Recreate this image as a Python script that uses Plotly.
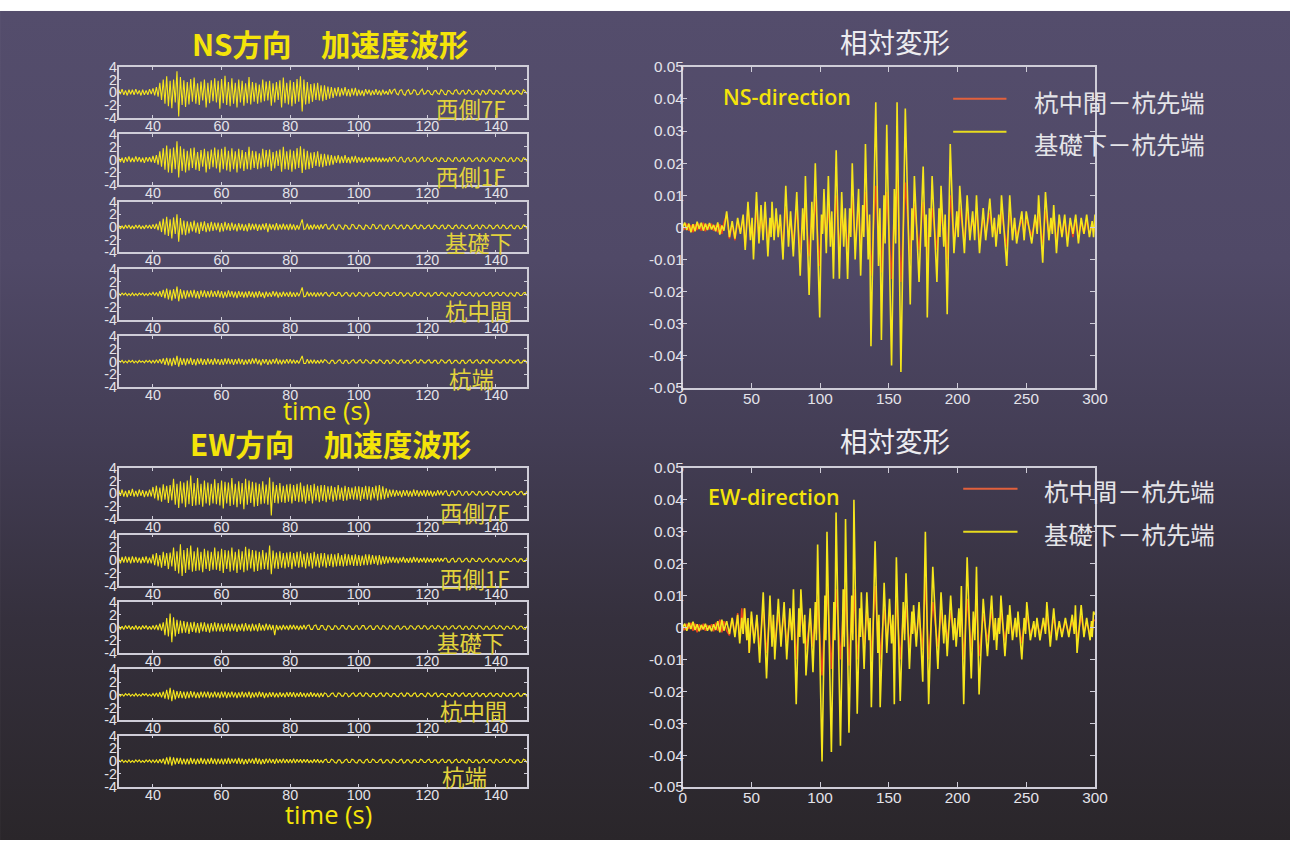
import base64
import plotly.graph_objects as go

# Layout positions are given on a 1290 x 841 grid (REF_W x REF_H); the figure
# itself is drawn slightly larger and every font is scaled to match.
REF_W, REF_H = 1290, 841
W, H = 1314, 856
SCALE = W / REF_W

# ---------------------------------------------------------------------------
# Acceleration records, sampled every 0.5 s from 30 s to 149.5 s
# (one row = 10 s)
# ---------------------------------------------------------------------------
acc_time = [30 + 0.5 * i for i in range(240)]

ns_west7f = [
    .4, -.3, .5, -.4, .3, -.5, .4, -.3, .4, -.4, .5, -.3, .3, -.5, .4, -.4, .3, -.4, .5, -.3,
    .6, -.5, .8, -.7, 1.5, -1.2, 2.0, -1.8, 2.5, -2.2, 1.8, -2.5, 2.0, -1.6, 3.3, -3.8, 2.4, -2.0, 1.9, -2.3,
    1.6, -1.9, 2.1, -1.5, 2.3, -1.8, 1.4, -2.0, 1.7, -1.3, 2.0, -2.4, 1.5, -1.7, 1.9, -1.4, 2.2, -1.6, 1.8, -2.6,
    2.1, -1.7, 2.6, -2.0, 1.6, -2.2, 2.2, -1.8, 1.5, -2.4, 2.0, -1.6, 1.8, -2.1, 1.4, -1.7, 2.4, -1.9, 1.6, -1.5,
    1.5, -1.8, 1.2, -1.6, 2.0, -1.4, 1.7, -1.3, 1.8, -2.1, 1.4, -1.6, 1.6, -1.2, 1.9, -2.4, 2.3, -1.7, 1.5, -1.9,
    1.9, -2.2, 1.6, -1.8, 2.1, -1.5, 2.5, -3.0, 2.0, -1.9, 1.6, -1.8, 1.3, -1.5, 1.4, -1.2, 1.5, -1.3, 1.1, -1.4,
    1.1, -1.2, .9, -1.0, .8, -.9, .7, -.6, .8, -.7, .6, -.5, .8, -.6, .5, -.7, .6, -.5, .7, -.6,
    .4, -.5, .3, -.6, .5, -.3, .4, -.5, .3, -.4, .5, -.4, .3, -.5, .4, -.3, .2, -.4, .5, -.3,
    .3, .5, -.2, -.4, .3, .4, -.3, -.5, .2, .4, -.3, -.2, .4, .3, -.4, -.3, .2, .5, -.3, -.2,
    .3, .2, -.3, -.4, .2, .3, -.2, -.3, .4, .2, -.3, -.4, .3, .2, -.2, -.3, .3, .4, -.2, -.3,
    .2, .3, -.3, -.2, .4, .2, -.3, -.3, .2, .3, -.2, -.4, .3, .2, -.3, -.2, .4, .3, -.2, -.3,
    .3, .2, -.2, -.3, .3, .4, -.2, -.3, .2, .3, -.3, -.2, .3, .2, -.2, -.3, .4, .2, -.2, .3]

ns_west1f = [
    .4, -.4, .3, -.5, .4, -.3, .5, -.4, .3, -.4, .5, -.3, .4, -.4, .3, -.5, .4, -.3, .4, -.4,
    .6, -.5, .7, -.8, 1.3, -1.1, 1.8, -1.6, 2.2, -2.0, 1.7, -2.1, 1.9, -1.5, 2.9, -2.8, 2.1, -1.8, 1.7, -2.0,
    1.4, -1.7, 1.8, -1.3, 1.9, -1.6, 1.2, -1.8, 1.5, -1.1, 1.7, -2.0, 1.3, -1.5, 1.6, -1.2, 1.9, -1.4, 1.6, -2.0,
    1.7, -1.5, 2.0, -1.7, 1.4, -1.9, 1.8, -1.5, 1.3, -2.0, 1.7, -1.4, 1.5, -1.8, 1.2, -1.5, 2.0, -1.6, 1.4, -1.3,
    1.3, -1.5, 1.0, -1.4, 1.7, -1.2, 1.5, -1.1, 1.6, -1.8, 1.2, -1.4, 1.4, -1.0, 1.6, -1.9, 2.0, -1.5, 1.3, -1.6,
    1.6, -1.9, 1.4, -1.5, 1.8, -1.3, 2.1, -2.1, 1.7, -1.6, 1.4, -1.5, 1.1, -1.3, 1.2, -1.0, 1.3, -1.1, .9, -1.2,
    .9, -1.0, .8, -.9, .7, -.8, .6, -.5, .7, -.6, .5, -.5, .7, -.5, .4, -.6, .5, -.4, .6, -.5,
    .4, -.4, .3, -.5, .4, -.3, .4, -.4, .3, -.3, .4, -.4, .3, -.4, .3, -.3, .2, -.4, .4, -.3,
    .3, .4, -.2, -.3, .3, .4, -.3, -.4, .2, .3, -.3, -.2, .3, .3, -.4, -.3, .2, .4, -.3, -.2,
    .3, .2, -.3, -.3, .2, .3, -.2, -.3, .3, .2, -.3, -.3, .3, .2, -.2, -.3, .3, .3, -.2, -.3,
    .2, .3, -.3, -.2, .3, .2, -.3, -.2, .2, .3, -.2, -.3, .3, .2, -.3, -.2, .3, .3, -.2, -.3,
    .3, .2, -.2, -.3, .3, .3, -.2, -.3, .2, .3, -.3, -.2, .3, .2, -.2, -.3, .3, .2, -.2, .3]

ns_foundation = [
    .3, -.3, .2, -.3, .3, -.2, .3, -.3, .2, -.3, .3, -.2, .3, -.3, .2, -.3, .3, -.2, .3, -.3,
    .4, -.3, .5, -.5, .9, -.8, 1.3, -1.2, 1.6, -1.4, 1.2, -1.8, 1.5, -1.1, 2.0, -2.3, 1.4, -1.2, 1.0, -1.3,
    .9, -1.0, .8, -.7, 1.0, -.9, .7, -1.1, .8, -.6, .9, -.8, .6, -.7, .8, -.6, .7, -.5, .7, -.8,
    .6, -.7, .8, -.5, .6, -.6, .7, -.5, .5, -.7, .6, -.5, .5, -.6, .4, -.7, .6, -.5, .5, -.4,
    .5, -.6, .4, -.5, .5, -.4, .6, -.8, .5, -.4, .4, -.5, .6, -.5, .4, -.4, .5, -.4, .4, -.5,
    .5, -.4, .4, -.5, .3, -.4, .4, 1.2, -.4, -.3, .5, -.4, .3, -.4, .4, -.3, .3, -.4, .4, -.3,
    .3, .4, -.3, -.3, .2, .4, -.3, -.4, .3, .3, -.2, -.4, .3, .2, -.3, -.3, .4, .3, -.2, -.3,
    .3, .2, -.3, -.4, .3, .2, -.2, -.3, .4, .3, -.3, -.2, .3, .3, -.3, -.4, .2, .3, -.3, -.2,
    .3, .3, -.2, -.3, .2, .3, -.3, -.2, .3, .2, -.3, -.3, .2, .3, -.2, -.3, .3, .2, -.3, -.2,
    .2, .3, -.3, -.2, .3, .2, -.2, -.3, .2, .3, -.3, -.2, .3, .2, -.2, -.3, .2, .3, -.2, -.2,
    .3, .2, -.2, -.3, .2, .3, -.3, -.2, .2, .3, -.2, -.3, .3, .2, -.2, -.2, .3, .2, -.3, -.2,
    .2, .3, -.2, -.2, .3, .2, -.3, -.2, .2, .3, -.2, -.3, .2, .2, -.3, -.2, .3, .2, -.2, .3]

ns_pile_mid = [
    .2, -.2, .2, -.1, .2, -.2, .1, -.2, .2, -.2, .1, -.2, .2, -.1, .2, -.2, .1, -.2, .2, -.1,
    .3, -.2, .3, -.3, .5, -.4, .7, -.6, .9, -.8, .7, -1.0, .8, -.7, 1.2, -1.1, .8, -.7, .6, -.7,
    .6, -.5, .6, -.5, .7, -.6, .5, -.7, .6, -.4, .6, -.5, .5, -.5, .6, -.4, .5, -.4, .6, -.5,
    .5, -.6, .4, -.5, .6, -.4, .5, -.5, .4, -.6, .5, -.4, .4, -.5, .4, -.5, .5, -.4, .4, -.5,
    .4, -.5, .5, -.4, .3, -.6, .4, -.4, .3, -.4, .5, -.3, .4, -.5, .3, -.4, .4, -.3, .3, -.4,
    .4, -.4, .3, -.4, .3, -.3, .3, 1.1, -.4, -.3, .4, -.3, .3, -.3, .3, -.4, .3, -.3, .3, -.3,
    .2, .3, -.2, -.3, .2, .3, -.2, -.2, .3, .2, -.3, -.2, .2, .3, -.2, -.3, .2, .2, -.3, -.2,
    .3, .2, -.2, -.3, .2, .2, -.3, -.2, .2, .3, -.2, -.2, .3, .2, -.2, -.3, .2, .3, -.2, -.2,
    .2, .3, -.2, -.2, .3, .2, -.3, -.2, .2, .2, -.2, -.3, .2, .3, -.2, -.2, .3, .2, -.2, -.3,
    .2, .2, -.3, -.2, .2, .3, -.2, -.2, .3, .2, -.2, -.3, .2, .2, -.2, -.3, .3, .2, -.2, -.2,
    .3, .2, -.2, -.2, .2, .3, -.2, -.3, .2, .2, -.3, -.2, .2, .3, -.2, -.2, .2, .3, -.3, -.2,
    .2, .3, -.2, -.2, .3, .2, -.2, -.3, .2, .2, -.2, -.3, .3, .2, -.2, -.2, .2, .3, -.2, .3]

ns_pile_tip = [
    .2, -.1, .2, -.2, .1, -.2, .2, -.1, .2, -.2, .1, -.2, .2, -.1, .1, -.2, .2, -.1, .2, -.2,
    .2, -.2, .3, -.2, .4, -.3, .5, -.5, .6, -.6, .5, -.7, .6, -.5, .9, -.8, .6, -.5, .5, -.6,
    .5, -.4, .6, -.5, .4, -.6, .5, -.4, .5, -.5, .4, -.5, .5, -.4, .4, -.5, .5, -.4, .4, -.5,
    .4, -.5, .5, -.4, .5, -.4, .4, -.5, .4, -.4, .5, -.4, .4, -.5, .3, -.4, .4, -.4, .5, -.3,
    .5, -.4, .3, -.6, .4, -.3, .4, -.5, .3, -.4, .4, -.3, .5, -.4, .3, -.4, .3, -.3, .4, -.3,
    .4, -.3, .3, -.3, .2, -.3, .3, .9, -.3, -.3, .4, -.3, .3, -.3, .3, -.3, .2, -.3, .3, -.2,
    .3, .2, -.2, -.3, .2, .2, -.3, -.2, .2, .3, -.2, -.3, .2, .2, -.3, -.2, .2, .3, -.2, -.2,
    .2, .3, -.2, -.2, .3, .2, -.2, -.3, .2, .2, -.2, -.2, .3, .2, -.2, -.3, .2, .2, -.3, -.2,
    .3, .2, -.2, -.3, .2, .3, -.2, -.2, .2, .2, -.3, -.2, .2, .3, -.2, -.2, .3, .2, -.2, -.2,
    .2, .3, -.2, -.2, .2, .2, -.3, -.2, .3, .2, -.2, -.2, .2, .3, -.3, -.2, .2, .2, -.2, -.3,
    .2, .2, -.3, -.2, .2, .3, -.2, -.2, .2, .3, -.2, -.3, .2, .2, -.2, -.2, .3, .2, -.2, -.2,
    .3, .2, -.2, -.2, .2, .3, -.2, -.2, .3, .2, -.2, -.2, .2, .3, -.2, -.2, .2, .2, -.2, .3]

ew_west7f = [
    .5, -.4, .6, -.5, .4, -.6, .5, -.4, .7, -.5, .4, -.5, .6, -.4, .5, -.6, .4, -.5, .6, -.5,
    1.0, -.8, 1.2, -1.1, .9, -1.3, 1.4, -1.0, 1.2, -1.5, 1.3, -1.1, 2.3, -1.8, 1.5, -2.3, 1.9, -1.6, 1.7, -2.2,
    2.0, -1.7, 2.8, -2.0, 1.6, -1.9, 2.4, -1.8, 1.5, -2.1, 2.0, -1.6, 1.7, -1.9, 1.5, -1.6, 2.2, -1.7, 1.6, -1.9,
    2.0, -2.4, 1.8, -1.6, 1.7, -2.0, 2.4, -1.8, 1.5, -2.2, 1.9, -1.7, 1.6, -2.5, 2.3, -1.8, 2.0, -1.5, 1.8, -2.1,
    1.7, -2.0, 1.5, -1.7, 1.9, -1.6, 1.4, -1.8, 2.5, -3.5, 1.8, -1.5, 1.3, -1.6, 1.6, -1.4, 1.2, -1.5, 1.4, -1.3,
    1.5, -1.6, 1.3, -1.2, 1.5, -1.4, 1.7, -1.3, 1.2, -1.6, 1.4, -1.2, 1.3, -1.6, 1.5, -1.1, 1.2, -1.4, 1.3, -1.2,
    1.3, -1.4, 1.1, -1.0, 1.2, -1.3, 1.0, -1.1, 1.3, -1.0, .9, -1.2, 1.2, -1.1, 1.0, -.9, .9, -1.0, 1.1, -1.0,
    1.1, -1.2, 1.0, -.9, 1.2, -1.0, 1.1, -1.1, 1.0, -.8, 1.2, -1.1, 1.3, -1.0, 1.1, -.9, .8, -.7, .6, -.5,
    .6, -.5, .5, -.4, .4, -.6, .5, -.4, .5, -.5, .4, -.5, .6, -.4, .5, -.5, .4, -.4, .5, -.5,
    .5, -.4, .4, -.5, .3, -.4, .5, -.3, .4, -.3, .3, .4, -.3, -.4, .3, .3, -.3, -.2, .4, .3,
    -.3, -.3, .2, .3, -.3, -.2, .3, .2, -.2, -.3, .3, .2, -.3, -.2, .2, .3, -.2, -.3, .3, .2,
    -.2, -.3, .2, .3, -.2, -.2, .3, .2, -.3, -.2, .2, .3, -.2, -.2, .2, .3, -.2, -.2, .3, .4]

ew_west1f = [
    .4, -.5, .5, -.4, .6, -.4, .5, -.5, .6, -.4, .5, -.4, .4, -.5, .5, -.4, .6, -.5, .4, -.5,
    .9, -.8, 1.1, -1.0, .8, -1.2, 1.3, -.9, 1.1, -1.4, 1.2, -1.0, 2.0, -1.7, 1.4, -2.1, 2.5, -2.5, 1.6, -2.0,
    1.9, -1.5, 2.3, -1.8, 1.4, -1.7, 2.0, -1.6, 1.3, -1.9, 1.8, -1.4, 1.5, -1.7, 1.3, -1.5, 2.0, -1.5, 1.4, -1.7,
    1.8, -2.0, 1.6, -1.4, 1.5, -1.8, 2.0, -1.6, 1.3, -2.0, 1.7, -1.5, 1.4, -1.9, 2.1, -1.6, 1.8, -1.3, 1.6, -1.8,
    1.5, -1.7, 1.3, -1.5, 1.6, -1.4, 1.2, -1.5, 2.3, -2.2, 1.5, -1.3, 1.2, -1.4, 1.4, -1.2, 1.1, -1.3, 1.2, -1.1,
    1.3, -1.4, 1.1, -1.0, 1.3, -1.2, 1.4, -1.1, 1.0, -1.3, 1.2, -1.0, 1.1, -1.3, 1.3, -1.0, 1.0, -1.2, 1.1, -1.0,
    1.1, -1.2, .9, -.9, 1.0, -1.1, .9, -1.0, 1.1, -.9, .8, -1.0, 1.0, -.9, .9, -.8, .8, -.9, .9, -.9,
    .8, -.9, .7, -.8, .9, -.8, .9, -.7, .8, -.6, .7, -.8, .8, -.7, .6, -.6, .6, -.5, .5, -.4,
    .5, -.4, .4, -.5, .4, -.3, .5, -.4, .3, -.4, .4, -.4, .5, -.3, .4, -.4, .3, -.3, .4, -.4,
    .4, -.3, .3, -.4, .3, -.2, .4, -.3, .3, -.2, .3, .3, -.3, -.3, .2, .3, -.3, -.2, .3, .3,
    -.3, -.2, .2, .3, -.2, -.3, .3, .2, -.2, -.2, .3, .2, -.3, -.2, .2, .3, -.2, -.3, .2, .2,
    -.2, -.3, .2, .2, -.3, -.2, .3, .2, -.2, -.2, .2, .3, -.2, -.3, .2, .2, -.2, -.2, .3, .4]

ew_foundation = [
    .3, -.3, .2, -.3, .3, -.2, .3, -.3, .2, -.3, .3, -.3, .2, -.3, .3, -.2, .3, -.3, .2, -.3,
    .3, -.3, .4, -.4, .6, -.5, .8, -1.2, 1.5, -1.4, 2.2, -2.3, 1.6, -1.4, 1.2, -1.0, 1.1, -.9, 1.0, -.8,
    .9, -1.0, .8, -.7, .9, -.8, .7, -.9, .8, -.6, .8, -.7, .6, -.8, .7, -.6, .8, -.6, .7, -.6,
    .6, -.7, .6, -.5, .7, -.6, .6, -.5, .6, -.7, .5, -.5, .6, -.6, .7, -.5, .5, -.6, .6, -.5,
    .5, -.6, .7, -.5, .4, -.5, .6, -.4, .5, -.4, .4, -1.2, .4, -.4, .3, -.4, .4, -.3, .3, -.4,
    .4, -.3, .4, -.3, .3, -.4, .3, -.3, .4, -.3, .3, .4, -.3, -.3, .3, .4, -.3, -.3, .3, .3,
    -.3, -.4, .3, .2, -.3, -.3, .3, .2, -.3, -.2, .3, .3, -.2, -.3, .3, .2, -.3, -.3, .2, .3,
    -.3, -.2, .3, .3, -.3, -.2, .2, .3, -.3, -.3, .2, .3, -.2, -.3, .3, .2, -.2, -.3, .3, .2,
    -.2, -.3, .2, .3, -.3, -.2, .2, .2, -.3, -.2, .3, .2, -.2, -.3, .2, .3, -.2, -.2, .3, .2,
    -.3, -.2, .2, .3, -.2, -.2, .3, .2, -.2, -.3, .2, .2, -.3, -.2, .2, .3, -.2, -.2, .2, .3,
    -.2, -.3, .2, .2, -.3, -.2, .3, .2, -.2, -.2, .3, .2, -.2, -.3, .2, .2, -.3, -.2, .2, .3,
    -.2, -.2, .3, .2, -.2, -.3, .2, .2, -.2, -.2, .3, .2, -.3, -.2, .2, .2, -.2, -.3, .2, .3]

ew_pile_mid = [
    .2, -.2, .1, -.2, .2, -.1, .2, -.2, .1, -.2, .2, -.2, .1, -.2, .2, -.1, .2, -.2, .1, -.2,
    .2, -.2, .3, -.3, .4, -.4, .5, -.6, .8, -.7, 1.1, -1.0, .8, -.7, .6, -.5, .6, -.5, .5, -.6,
    .5, -.5, .6, -.4, .5, -.5, .4, -.5, .5, -.4, .5, -.4, .5, -.5, .4, -.4, .5, -.4, .4, -.5,
    .5, -.4, .5, -.5, .4, -.4, .5, -.4, .4, -.5, .4, -.4, .5, -.4, .4, -.4, .5, -.5, .4, -.4,
    .4, -.4, .5, -.3, .4, -.5, .3, -.4, .4, -.3, .4, -.4, .3, -.4, .4, -.3, .3, -.4, .4, -.3,
    .4, -.3, .4, -.4, .3, -.3, .4, -.3, .3, -.4, .3, -.3, .4, -.3, .3, -.3, .3, -.4, .3, -.3,
    .3, .2, -.3, -.2, .2, .3, -.2, -.3, .3, .2, -.2, -.2, .3, .2, -.3, -.2, .2, .3, -.2, -.2,
    .2, .3, -.2, -.2, .3, .2, -.2, -.3, .2, .2, -.3, -.2, .2, .3, -.2, -.2, .3, .2, -.2, -.3,
    .2, .2, -.2, -.3, .2, .3, -.2, -.2, .3, .2, -.2, -.2, .2, .3, -.3, -.2, .2, .2, -.2, -.3,
    .3, .2, -.2, -.2, .2, .3, -.3, -.2, .2, .2, -.2, -.3, .2, .2, -.2, -.2, .3, .2, -.2, -.2,
    .2, .3, -.2, -.2, .2, .2, -.3, -.2, .2, .3, -.2, -.2, .2, .2, -.3, -.2, .2, .3, -.2, -.2,
    .2, .2, -.2, -.3, .3, .2, -.2, -.2, .2, .2, -.3, -.2, .2, .3, -.2, -.2, .2, .2, -.2, .3]

ew_pile_tip = [
    .2, -.1, .2, -.2, .1, -.2, .2, -.2, .1, -.2, .2, -.1, .2, -.2, .1, -.2, .2, -.1, .2, -.2,
    .2, -.2, .2, -.3, .3, -.3, .4, -.5, .6, -.5, .7, -.7, .6, -.5, .5, -.4, .5, -.5, .4, -.5,
    .4, -.5, .5, -.4, .4, -.5, .4, -.4, .5, -.4, .4, -.5, .4, -.4, .5, -.4, .4, -.5, .4, -.4,
    .4, -.5, .4, -.4, .5, -.4, .4, -.3, .4, -.4, .5, -.4, .4, -.5, .3, -.4, .4, -.3, .4, -.4,
    .5, -.4, .4, -.5, .3, -.4, .4, -.3, .4, -.3, .3, -.4, .4, -.3, .3, -.3, .4, -.3, .3, -.3,
    .3, -.3, .4, -.3, .3, -.2, .3, -.3, .3, -.2, .3, -.3, .2, -.3, .3, -.2, .3, -.3, .2, -.3,
    .2, .3, -.2, -.2, .3, .2, -.2, -.3, .2, .2, -.3, -.2, .2, .3, -.2, -.2, .3, .2, -.2, -.3,
    .2, .2, -.2, -.3, .2, .3, -.2, -.2, .3, .2, -.2, -.2, .2, .3, -.3, -.2, .2, .2, -.2, -.3,
    .3, .2, -.2, -.2, .2, .3, -.3, -.2, .2, .2, -.2, -.3, .2, .2, -.2, -.2, .3, .2, -.2, -.2,
    .2, .3, -.2, -.2, .2, .2, -.3, -.2, .2, .3, -.2, -.2, .2, .2, -.3, -.2, .2, .3, -.2, -.2,
    .2, .2, -.2, -.3, .3, .2, -.2, -.2, .2, .2, -.3, -.2, .2, .3, -.2, -.2, .2, .2, -.2, -.3,
    .3, .2, -.2, -.2, .2, .3, -.2, -.2, .3, .2, -.2, -.3, .2, .2, -.2, -.2, .3, .2, -.2, .3]

station_labels = ["西側7F", "西側1F", "基礎下", "杭中間", "杭端"]
ns_records = [ns_west7f, ns_west1f, ns_foundation, ns_pile_mid, ns_pile_tip]
ew_records = [ew_west7f, ew_west1f, ew_foundation, ew_pile_mid, ew_pile_tip]
for rec in ns_records + ew_records:
    assert len(rec) == len(acc_time), len(rec)

acc_ticks = [40, 60, 80, 100, 120, 140]
acc_yticks = [-4, -2, 0, 2, 4]

# ---------------------------------------------------------------------------
# Relative deformation, 0-300 s (turning points of the record)
# ---------------------------------------------------------------------------
ns_def_time = [0, 1.5, 3, 4.5, 6, 7.5, 9, 10.5, 12, 13.5,
               15, 16.5, 18, 19.5, 21, 22.5, 24, 25.5, 27, 28.5,
               30, 32, 34, 36, 38, 40, 42, 44, 45.5, 47.5,
               49.3, 50.5, 51.5, 53.7, 55.5, 57, 58.5, 60, 62, 63.5,
               64.3, 65, 66.5, 68, 69.5, 71, 73, 75, 77, 78.5,
               80.5, 83, 85.5, 87.3, 88.3, 89.3, 92, 94, 95, 96.5,
               99.7, 101, 101.8, 102.8, 104.5, 106, 107.5, 108.5, 109.7, 111.7,
               114, 115.7, 117.2, 118.3, 120, 121.5, 122.3, 123.4, 125.5, 128,
               129.5, 131, 131.8, 133, 135, 136, 137, 140.5, 142.5, 143.5,
               144.6, 146.5, 147.3, 148.5, 152, 154, 155, 156, 158.8, 162,
               165.6, 166.8, 167.6, 168.6, 172, 175, 176.5, 177.2, 178, 179.5,
               180.3, 181.5, 185, 186.5, 187.2, 188, 190, 191, 192.5, 194.7,
               197.4, 199.5, 200.5, 201.6, 205, 207, 209, 211, 212.5, 213.8,
               216, 218.7, 220.5, 223.5, 225.5, 226.8, 228, 230, 231, 232,
               235.8, 238, 240, 241.5, 243, 246.8, 248.5, 250, 254, 256.5,
               258, 259, 262, 264, 266.5, 268, 269, 270, 272, 274,
               276, 278, 280, 282, 284, 286, 288, 290, 292, 294,
               296, 298, 299, 300]
# 基礎下－杭先端
ns_def_base = [0.0, 0.0015, -0.0008, 0.0012, -0.0015, 0.001, -0.0012, 0.0018, -0.0005, 0.0015,
               -0.001, 0.0012, -0.0008, 0.0014, -0.0006, 0.0008, -0.0012, 0.0016, -0.0022, 0.0006,
               -0.001, 0.005, -0.003, 0.002, -0.0035, 0.003, -0.002, 0.004, -0.007, 0.008,
               -0.004, 0.003, -0.01, 0.011, -0.005, 0.007, -0.004, 0.008, -0.009, 0.003,
               -0.003, 0.008, -0.004, 0.006, -0.003, 0.004, -0.01, 0.013, -0.006, 0.005,
               -0.009, 0.011, -0.015, 0.006, -0.004, 0.016, -0.021, 0.008, -0.004, 0.02,
               -0.028, 0.004, -0.002, 0.012, -0.008, 0.016, -0.006, 0.005, -0.016, 0.024,
               -0.016, 0.011, -0.006, 0.006, -0.016, 0.006, -0.003, 0.02, -0.01, 0.012,
               -0.015, 0.007, -0.003, 0.026, -0.01, 0.004, -0.037, 0.039, -0.012, 0.006,
               -0.035, 0.01, -0.005, 0.032, -0.043, 0.012, -0.005, 0.039, -0.045, 0.037,
               -0.024, 0.006, -0.004, 0.016, -0.017, 0.019, -0.006, 0.004, -0.028, 0.006,
               -0.003, 0.016, -0.017, 0.006, -0.003, 0.013, -0.006, 0.004, -0.027, 0.026,
               -0.008, 0.005, -0.003, 0.013, -0.008, 0.01, -0.004, 0.005, -0.004, 0.01,
               -0.008, 0.006, -0.004, 0.009, -0.003, 0.003, -0.006, 0.004, -0.002, 0.01,
               -0.012, 0.01, -0.004, 0.003, -0.005, 0.005, -0.004, 0.005, -0.005, 0.004,
               -0.002, 0.01, -0.011, 0.011, -0.004, 0.003, -0.002, 0.007, -0.008, 0.004,
               -0.003, 0.004, -0.006, 0.003, -0.002, 0.004, -0.005, 0.003, -0.002, 0.004,
               -0.003, 0.002, -0.003, 0.004]
# 杭中間－杭先端
ns_def_mid = [0.0, -0.0005, 0.0012, -0.001, 0.0008, -0.0015, 0.001, -0.0008, 0.0012, -0.001,
              0.0015, -0.0012, 0.001, -0.0006, 0.0012, -0.001, 0.0008, -0.0015, 0.001, -0.002,
              0.0015, 0.004, -0.0035, 0.001, -0.004, 0.002, -0.0015, 0.003, -0.006, 0.007,
              -0.003, 0.002, -0.005, 0.005, -0.003, 0.0035, -0.0025, 0.004, -0.0045, 0.0015,
              -0.0015, 0.004, -0.002, 0.003, -0.002, 0.002, -0.005, 0.006, -0.003, 0.0025,
              -0.0045, 0.005, -0.007, 0.003, -0.002, 0.007, -0.009, 0.004, -0.002, 0.009,
              -0.012, 0.002, -0.001, 0.006, -0.004, 0.007, -0.003, 0.002, -0.008, 0.01,
              -0.007, 0.005, -0.003, 0.003, -0.007, 0.003, -0.0015, 0.009, -0.005, 0.006,
              -0.007, 0.003, -0.0015, 0.011, -0.005, 0.002, -0.015, 0.013, -0.006, 0.003,
              -0.014, 0.005, -0.0025, 0.011, -0.016, 0.006, -0.0025, 0.017, -0.017, 0.014,
              -0.01, 0.003, -0.002, 0.007, -0.007, 0.008, -0.003, 0.002, -0.011, 0.003,
              -0.0015, 0.006, -0.007, 0.003, -0.0015, 0.005, -0.003, 0.002, -0.01, 0.01,
              -0.004, 0.0025, -0.0015, 0.006, -0.004, 0.005, -0.002, 0.0025, -0.002, 0.005,
              -0.004, 0.003, -0.002, 0.0045, -0.0015, 0.0015, -0.003, 0.002, -0.001, 0.005,
              -0.006, 0.005, -0.002, 0.0015, -0.0025, 0.0025, -0.002, 0.0025, -0.0025, 0.002,
              -0.001, 0.005, -0.005, 0.005, -0.002, 0.0015, -0.001, 0.0035, -0.004, 0.002,
              -0.0025, 0.002, -0.003, 0.002, -0.003, 0.002, -0.0025, 0.0015, -0.002, 0.002,
              -0.002, 0.001, -0.0015, 0.002]

ew_def_time = [0, 1.5, 3, 4.5, 6, 7.5, 9, 10.5, 12, 13.5,
               15, 16.5, 18, 19.5, 21, 22.5, 24, 25.5, 27, 28.5,
               30, 32, 34, 36, 38, 40, 41.5, 43, 44, 45,
               46.7, 47.5, 48.4, 50, 52, 54, 56, 58.6, 61, 63.5,
               65, 66, 67, 69.6, 71.5, 73.8, 75.7, 78, 79.5, 80.6,
               82.6, 84.5, 85.2, 86, 88, 88.8, 89.7, 92.8, 94.8, 96.5,
               97.3, 98.2, 101.4, 103.5, 104.2, 105, 108.2, 110, 110.8, 111.6,
               114.8, 116.8, 117.6, 118.5, 121, 123, 123.8, 124.6, 127, 128.8,
               129.4, 130, 132, 134, 135.6, 136.4, 137.3, 140, 142, 142.8,
               143.7, 146.6, 148.5, 150.5, 152, 153, 154, 155.5, 158.3, 160.5,
               161.5, 162.5, 165, 166.8, 167.4, 168, 170, 172, 174.7, 176.6,
               179, 182, 185.7, 188, 190, 191, 192.5, 195, 197, 198,
               199, 201, 201.8, 202.8, 204.5, 207, 210, 211.5, 212.6, 213.8,
               215.7, 218.7, 221.8, 224.8, 226.5, 227.5, 228.4, 229.8, 230.6, 231.6,
               234.5, 236.5, 237.2, 238, 240, 242, 243, 244, 246.8, 248.5,
               249.5, 250.4, 253, 255.5, 256.5, 257.8, 260, 262.5, 264, 265,
               267.5, 270, 272, 274, 276, 278.5, 281, 283.5, 285, 285.8,
               287, 290, 292, 294, 296.5, 297.5, 298, 299, 300]
ew_def_base = [0.0, 0.0012, -0.001, 0.0015, -0.0005, 0.0018, -0.0008, 0.001, -0.0012, 0.0008,
               -0.0006, 0.0012, -0.001, 0.0006, -0.0012, 0.001, -0.0008, 0.002, -0.0015, 0.0025,
               -0.001, 0.002, -0.002, 0.003, -0.003, 0.004, -0.005, 0.003, -0.002, 0.006,
               -0.004, 0.003, -0.008, 0.005, -0.005, 0.004, -0.011, 0.011, -0.016, 0.01,
               -0.006, 0.004, -0.01, 0.009, -0.006, 0.008, -0.01, 0.006, -0.004, 0.012,
               -0.024, 0.006, -0.003, 0.012, -0.005, 0.004, -0.015, 0.006, -0.014, 0.008,
               -0.004, 0.026, -0.042, 0.01, -0.004, 0.03, -0.039, 0.008, -0.004, 0.036,
               -0.037, 0.012, -0.006, 0.034, -0.033, 0.01, -0.004, 0.04, -0.027, 0.006,
               -0.003, 0.011, -0.013, 0.011, -0.004, 0.003, -0.025, 0.027, -0.008, 0.004,
               -0.025, 0.014, -0.008, 0.009, -0.005, 0.004, -0.024, 0.022, -0.023, 0.008,
               -0.004, 0.017, -0.013, 0.005, -0.002, 0.007, -0.006, 0.008, -0.017, 0.03,
               -0.024, 0.019, -0.013, 0.011, -0.005, 0.004, -0.009, 0.01, -0.004, 0.003,
               -0.006, 0.006, -0.003, 0.013, -0.024, 0.022, -0.016, 0.005, -0.004, 0.019,
               -0.021, 0.009, -0.009, 0.01, -0.004, 0.003, -0.007, 0.003, -0.002, 0.01,
               -0.009, 0.004, -0.002, 0.007, -0.004, 0.003, -0.003, 0.005, -0.01, 0.003,
               -0.002, 0.008, -0.004, 0.002, -0.003, 0.003, -0.004, 0.003, -0.002, 0.008,
               -0.006, 0.006, -0.004, 0.002, -0.003, 0.003, -0.003, 0.004, -0.002, 0.007,
               -0.008, 0.007, -0.003, 0.003, -0.004, 0.002, -0.003, 0.005, 0.004]
ew_def_mid = [0.0, -0.0008, 0.0012, -0.0005, 0.0015, -0.001, 0.0012, -0.0015, 0.001, -0.0008,
              0.0012, -0.001, 0.0008, -0.0006, 0.001, -0.0012, 0.0015, -0.001, 0.0025, -0.0015,
              0.002, -0.001, -0.0025, 0.003, -0.002, 0.0045, -0.004, 0.006, -0.002, 0.006,
              -0.004, 0.002, -0.008, 0.004, -0.004, 0.003, -0.006, 0.006, -0.008, 0.005,
              -0.003, 0.002, -0.005, 0.004, -0.003, 0.004, -0.005, 0.003, -0.002, 0.006,
              -0.01, 0.003, -0.0015, 0.006, -0.0025, 0.002, -0.007, 0.003, -0.006, 0.004,
              -0.002, 0.009, -0.015, 0.005, -0.002, 0.014, -0.013, 0.004, -0.002, 0.012,
              -0.01, 0.005, -0.003, 0.012, -0.012, 0.005, -0.002, 0.012, -0.01, 0.003,
              -0.0015, 0.005, -0.006, 0.005, -0.002, 0.0015, -0.01, 0.013, -0.004, 0.002,
              -0.01, 0.006, -0.004, 0.004, -0.0025, 0.002, -0.01, 0.009, -0.01, 0.004,
              -0.002, 0.007, -0.006, 0.0025, -0.001, 0.0035, -0.003, 0.004, -0.007, 0.015,
              -0.01, 0.008, -0.006, 0.005, -0.0025, 0.002, -0.004, 0.005, -0.002, 0.0015,
              -0.003, 0.003, -0.0015, 0.006, -0.01, 0.009, -0.007, 0.0025, -0.002, 0.008,
              -0.009, 0.004, -0.004, 0.005, -0.002, 0.0015, -0.0035, 0.0015, -0.001, 0.005,
              -0.004, 0.002, -0.001, 0.0035, -0.002, 0.0015, -0.0015, 0.0025, -0.005, 0.0015,
              -0.001, 0.004, -0.002, 0.001, -0.0015, 0.0015, -0.002, 0.0015, -0.001, 0.004,
              -0.003, 0.003, -0.002, 0.001, -0.0015, 0.0015, -0.0015, 0.002, -0.001, 0.0035,
              -0.004, 0.0035, -0.0015, 0.0015, -0.002, 0.001, -0.0015, 0.0025, 0.002]

for tt, a, b in [(ns_def_time, ns_def_base, ns_def_mid), (ew_def_time, ew_def_base, ew_def_mid)]:
    assert len(tt) == len(a) == len(b), (len(tt), len(a), len(b))

deform_yticks = [-0.05, -0.04, -0.03, -0.02, -0.01, 0, 0.01, 0.02, 0.03, 0.04, 0.05]
deform_ytext = ["-0.05", "-0.04", "-0.03", "-0.02", "-0.01", "0",
                "0.01", "0.02", "0.03", "0.04", "0.05"]
deform_xticks = [0, 50, 100, 150, 200, 250, 300]
legend_labels = ["杭中間－杭先端", "基礎下－杭先端"]

# ---------------------------------------------------------------------------
# Styling
# ---------------------------------------------------------------------------
YELLOW = "#f6e61c"
RED = "#e8421e"
FRAME = "#cfcdd8"
TICKTXT = "#e4e3ea"
JP = "Noto Sans CJK JP"
LAT = "Liberation Sans"


def px(x):
    return x / REF_W


def py(y):
    return 1 - y / REF_H


def fs(size):
    return round(size * SCALE, 1)


fig = go.Figure()
layout_axes = {}

# acceleration panels (left column)
ACC_X0, ACC_X1, ACC_H = 122, 528, 51
ns_tops = [66, 133.5, 201, 268.5, 336]
ew_tops = [468, 535, 602.5, 670, 736.5]


def axis_key(kind, n):
    return kind + ("" if n == 1 else str(n))


n = 0
for records, tops in [(ns_records, ns_tops), (ew_records, ew_tops)]:
    for rec, top in zip(records, tops):
        n += 1
        fig.add_trace(go.Scatter(x=acc_time, y=rec, mode="lines",
                                 line=dict(color=YELLOW, width=1.1),
                                 xaxis=f"x{n}", yaxis=f"y{n}",
                                 hoverinfo="skip", showlegend=False))
        layout_axes[axis_key("xaxis", n)] = dict(
            domain=[px(ACC_X0), px(ACC_X1)], anchor=f"y{n}", range=[30, 149],
            tickvals=acc_ticks, ticks="inside", ticklen=3, tickcolor=FRAME,
            showline=True, mirror="ticks", linecolor=FRAME, linewidth=1.5,
            showgrid=False, zeroline=False, ticklabelstandoff=-6,
            tickfont=dict(family=LAT, size=fs(14), color=TICKTXT))
        layout_axes[axis_key("yaxis", n)] = dict(
            domain=[py(top + ACC_H), py(top)], anchor=f"x{n}", range=[-4, 4],
            tickvals=acc_yticks, ticktext=[str(v) for v in acc_yticks],
            ticks="inside", ticklen=3, tickcolor=FRAME,
            showline=True, mirror="ticks", linecolor=FRAME, linewidth=1.5,
            showgrid=False, zeroline=False, ticklabelstandoff=-3,
            tickfont=dict(family=LAT, size=fs(14), color=TICKTXT))

# relative deformation panels (right column)
DEF_X0, DEF_X1 = 683, 1093
def_boxes = [(66, 388), (468, 788)]
for (tt, base, mid), (top, bottom) in zip(
        [(ns_def_time, ns_def_base, ns_def_mid), (ew_def_time, ew_def_base, ew_def_mid)], def_boxes):
    n += 1
    fig.add_trace(go.Scatter(x=tt, y=mid, mode="lines", line=dict(color=RED, width=1.5),
                             xaxis=f"x{n}", yaxis=f"y{n}", hoverinfo="skip", showlegend=False))
    fig.add_trace(go.Scatter(x=tt, y=base, mode="lines", line=dict(color=YELLOW, width=1.6),
                             xaxis=f"x{n}", yaxis=f"y{n}", hoverinfo="skip", showlegend=False))
    layout_axes[axis_key("xaxis", n)] = dict(
        domain=[px(DEF_X0), px(DEF_X1)], anchor=f"y{n}", range=[0, 300],
        tickvals=deform_xticks, ticks="inside", ticklen=5, tickcolor=FRAME,
        showline=True, mirror="ticks", linecolor=FRAME, linewidth=1.5,
        showgrid=False, zeroline=False, ticklabelstandoff=-4,
        tickfont=dict(family=LAT, size=fs(15), color=TICKTXT))
    layout_axes[axis_key("yaxis", n)] = dict(
        domain=[py(bottom), py(top)], anchor=f"x{n}", range=[-0.05, 0.05],
        tickvals=deform_yticks, ticktext=deform_ytext,
        ticks="inside", ticklen=5, tickcolor=FRAME,
        showline=True, mirror="ticks", linecolor=FRAME, linewidth=1.5,
        showgrid=False, zeroline=False, ticklabelstandoff=-6,
        tickfont=dict(family=LAT, size=fs(15), color=TICKTXT))

# ---------------------------------------------------------------------------
# Background: smooth vertical gradient inside a thin white strip (top / left)
# ---------------------------------------------------------------------------
BG_TOP, BG_LEFT = 10, 4
grad_stops = [(10, (84, 77, 108)), (260, (80, 73, 103)), (430, (68, 62, 86)),
              (620, (53, 48, 61)), (841, (42, 38, 42))]
stop_tags = "".join(
    '<stop offset="%.4f" stop-color="rgb(%d,%d,%d)"/>' % (((y - BG_TOP) / (REF_H - BG_TOP),) + c)
    for y, c in grad_stops)
svg = ('<svg xmlns="http://www.w3.org/2000/svg" width="%d" height="%d" viewBox="0 0 %d %d" '
       'preserveAspectRatio="none"><defs><linearGradient id="g" x1="0" y1="0" x2="0" y2="1">%s'
       '</linearGradient></defs><rect x="%d" y="%d" width="%d" height="%d" fill="url(#g)"/></svg>'
       % (REF_W, REF_H, REF_W, REF_H, stop_tags, BG_LEFT, BG_TOP, REF_W - BG_LEFT, REF_H - BG_TOP))
bg_src = "data:image/svg+xml;base64," + base64.b64encode(svg.encode()).decode()
images = [dict(source=bg_src, xref="paper", yref="paper", x=0, y=1, sizex=1, sizey=1,
               xanchor="left", yanchor="top", sizing="stretch", layer="below")]

# legend keys for the deformation panels
shapes = []
annotations = []
legend_rows = [  # (line y, text y) for the NS and EW panels
    [(98, 101), (131, 143)],
    [(489, 491), (532, 534)],
]
legend_x = [(952, 1005, 1030), (962, 1016, 1040)]
legend_colours = ["#e2603c", "#e8dc1e"]
for rows, (lx0, lx1, tx) in zip(legend_rows, legend_x):
    for (ly, ty), lab, col in zip(rows, legend_labels, legend_colours):
        shapes.append(dict(type="line", xref="paper", yref="paper",
                           x0=px(lx0), x1=px(lx1), y0=py(ly), y1=py(ly),
                           line=dict(color=col, width=2)))
        annotations.append(dict(text=lab, x=px(tx), y=py(ty), xref="paper", yref="paper",
                                xanchor="left", yanchor="middle", showarrow=False,
                                font=dict(family=JP, size=fs(24), color="#e4e4e8")))


def note(text, x, y, size, colour, family=JP, xanchor="center", weight="normal"):
    annotations.append(dict(text=text, x=px(x), y=py(y), xref="paper", yref="paper",
                            xanchor=xanchor, yanchor="middle", showarrow=False,
                            font=dict(family=family, size=fs(size), color=colour, weight=weight)))


TITLE_YEL = "#f4e40a"
note("NS方向　加速度波形", 333, 42, 29, TITLE_YEL, weight="bold")
note("EW方向　加速度波形", 333, 443, 29, TITLE_YEL, weight="bold")
note("time (s)", 329, 410, 25, TITLE_YEL, family="Open Sans")
note("time (s)", 331, 815, 25, TITLE_YEL, family="Open Sans")
note("相対変形", 894, 40, 27, "#ececf0")
note("相対変形", 894, 440, 27, "#ececf0")
note("NS-direction", 721, 96, 21, TITLE_YEL, family="Open Sans", xanchor="left", weight=600)
note("EW-direction", 706, 497, 21, TITLE_YEL, family="Open Sans", xanchor="left", weight=600)

LABEL_YEL = "#e2d23c"
ns_label_pos = [(509, 107), (509, 175), (515, 242), (515, 310), (497, 378)]
ew_label_pos = [(513, 512), (513, 578), (507, 643), (510, 711), (490, 777)]
for pos in (ns_label_pos, ew_label_pos):
    for lab, (x, y) in zip(station_labels, pos):
        note(lab, x, y, 22, LABEL_YEL, xanchor="right")

# width/height come from the plot div itself (see write_html below)
fig.update_layout(
    margin=dict(l=0, r=0, t=0, b=0),
    paper_bgcolor="white", plot_bgcolor="rgba(0,0,0,0)",
    font=dict(family=LAT, color=TICKTXT),
    showlegend=False, shapes=shapes, annotations=annotations, images=images,
    **layout_axes,
)

fig.write_html("out.html",
               default_width="%dpx; margin:-8px" % W,
               default_height="%dpx" % H)
